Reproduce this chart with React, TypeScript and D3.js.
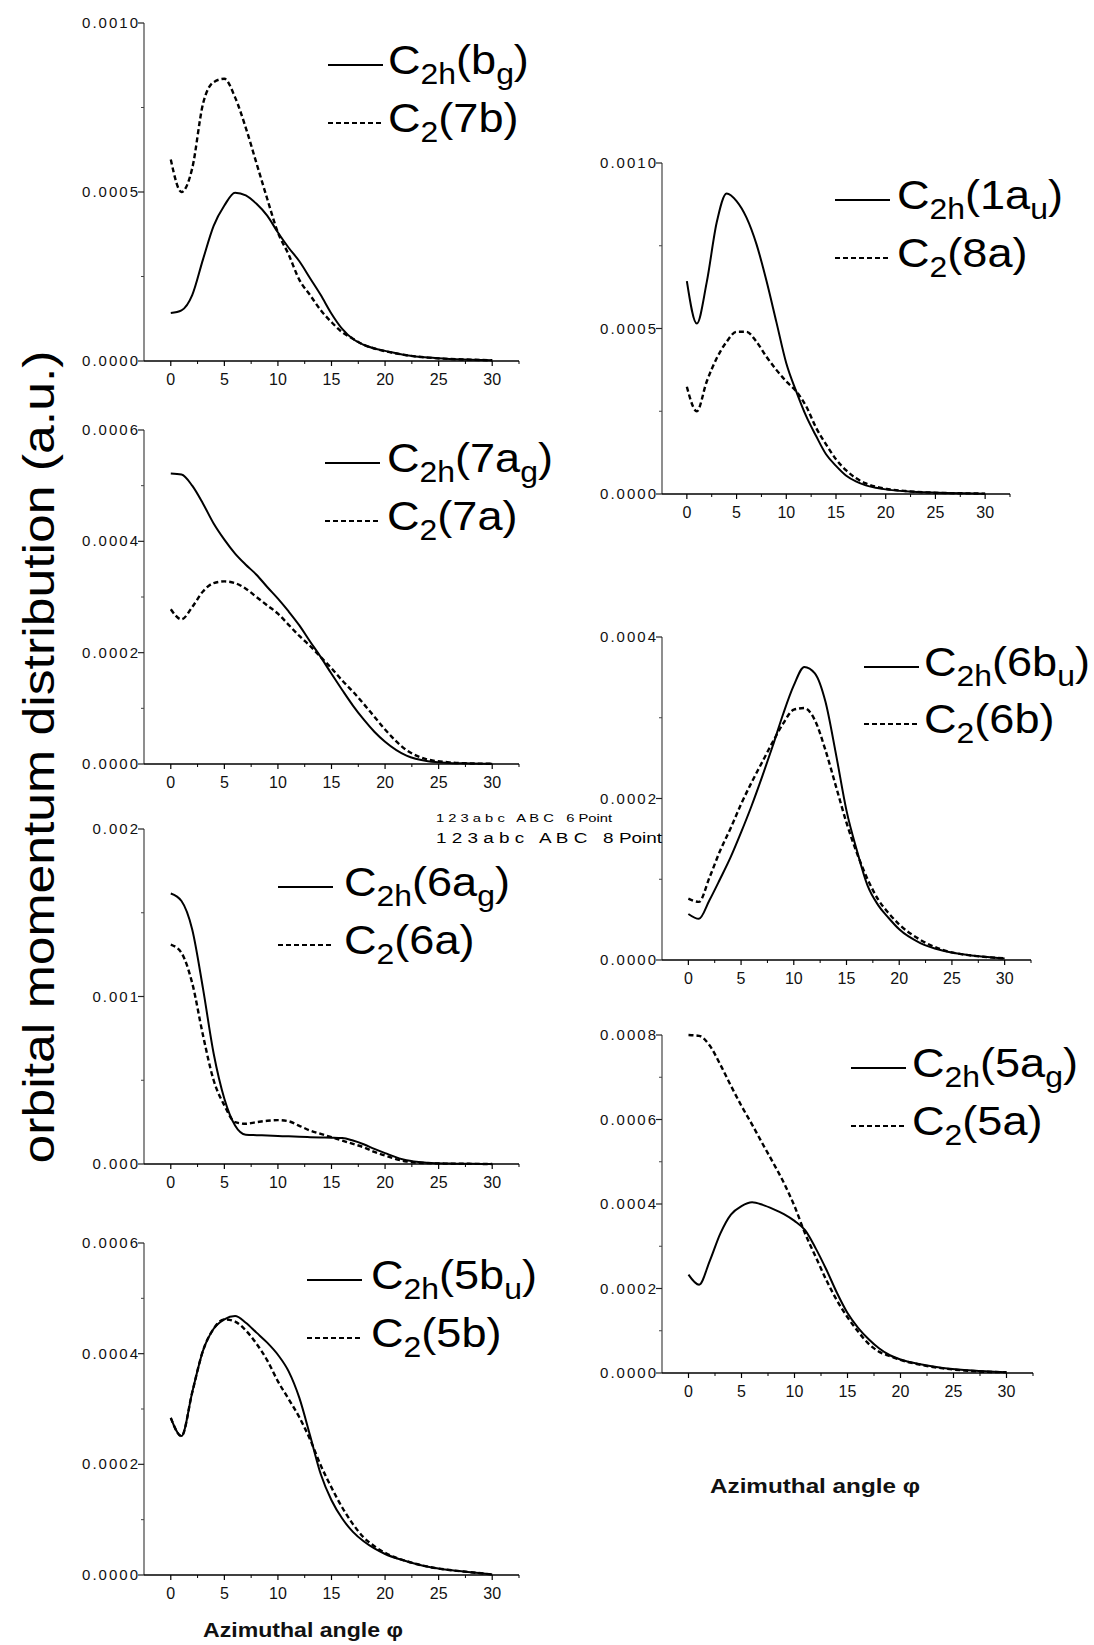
import React from "react";
import * as d3 from "d3";

const FONT = "'Liberation Sans', Arial, Helvetica, sans-serif";

// shared azimuthal-angle grid (degrees)
const angles = [0, 1, 2, 3, 4, 5, 6, 7, 8, 9, 10, 11, 12, 13, 14, 15, 16, 17, 18, 19, 20, 22, 24, 26, 28, 30];

const xMajorTicks = [0, 5, 10, 15, 20, 25, 30];
const xMinorTicks = [2.5, 7.5, 12.5, 17.5, 22.5, 27.5, 32.5];

// Panel: C2h(bg) / C2(7b)
const bgSolid = [1.42e-4, 1.5e-4, 1.95e-4, 3.0e-4, 4.0e-4, 4.6e-4, 4.98e-4, 4.9e-4, 4.65e-4, 4.3e-4, 3.8e-4, 3.35e-4, 2.95e-4, 2.45e-4, 1.95e-4, 1.4e-4, 0.95e-4, 0.65e-4, 0.48e-4, 0.37e-4, 0.3e-4, 0.17e-4, 0.1e-4, 0.06e-4, 0.04e-4, 0.02e-4];
const b7Dashed = [5.96e-4, 5.0e-4, 5.7e-4, 7.6e-4, 8.25e-4, 8.35e-4, 7.8e-4, 6.9e-4, 5.85e-4, 4.8e-4, 3.8e-4, 3.15e-4, 2.4e-4, 1.95e-4, 1.5e-4, 1.15e-4, 0.85e-4, 0.66e-4, 0.48e-4, 0.37e-4, 0.29e-4, 0.17e-4, 0.1e-4, 0.06e-4, 0.04e-4, 0.02e-4];

// Panel: C2h(1au) / C2(8a)
const au1Solid = [6.43e-4, 5.15e-4, 6.4e-4, 8.2e-4, 9.08e-4, 8.85e-4, 8.35e-4, 7.55e-4, 6.45e-4, 5.2e-4, 3.95e-4, 3.1e-4, 2.35e-4, 1.75e-4, 1.2e-4, 0.85e-4, 0.56e-4, 0.38e-4, 0.26e-4, 0.19e-4, 0.14e-4, 0.08e-4, 0.05e-4, 0.03e-4, 0.02e-4, 0.01e-4];
const a8Dashed = [3.24e-4, 2.5e-4, 3.4e-4, 4.1e-4, 4.6e-4, 4.9e-4, 4.9e-4, 4.6e-4, 4.15e-4, 3.75e-4, 3.4e-4, 3.1e-4, 2.65e-4, 2.0e-4, 1.5e-4, 1.05e-4, 0.72e-4, 0.48e-4, 0.32e-4, 0.22e-4, 0.16e-4, 0.09e-4, 0.05e-4, 0.03e-4, 0.02e-4, 0.01e-4];

// Panel: C2h(7ag) / C2(7a)
const ag7Solid = [5.22e-4, 5.2e-4, 5.0e-4, 4.68e-4, 4.32e-4, 4.03e-4, 3.78e-4, 3.58e-4, 3.4e-4, 3.18e-4, 2.97e-4, 2.74e-4, 2.49e-4, 2.2e-4, 1.92e-4, 1.62e-4, 1.33e-4, 1.05e-4, 0.8e-4, 0.58e-4, 0.4e-4, 0.15e-4, 0.05e-4, 0.02e-4, 0.01e-4, 0.005e-4];
const a7Dashed = [2.78e-4, 2.6e-4, 2.82e-4, 3.1e-4, 3.25e-4, 3.28e-4, 3.25e-4, 3.15e-4, 3.0e-4, 2.85e-4, 2.7e-4, 2.5e-4, 2.3e-4, 2.12e-4, 1.92e-4, 1.72e-4, 1.5e-4, 1.3e-4, 1.08e-4, 0.85e-4, 0.62e-4, 0.25e-4, 0.08e-4, 0.03e-4, 0.01e-4, 0.005e-4];

// Panel: C2h(6bu) / C2(6b)
const bu6Solid = [0.57e-4, 0.51e-4, 0.74e-4, 1.0e-4, 1.27e-4, 1.58e-4, 1.91e-4, 2.27e-4, 2.65e-4, 3.05e-4, 3.4e-4, 3.63e-4, 3.55e-4, 3.2e-4, 2.55e-4, 1.85e-4, 1.35e-4, 0.92e-4, 0.68e-4, 0.52e-4, 0.38e-4, 0.21e-4, 0.12e-4, 0.07e-4, 0.04e-4, 0.02e-4];
const b6Dashed = [0.76e-4, 0.72e-4, 1.02e-4, 1.35e-4, 1.63e-4, 1.93e-4, 2.2e-4, 2.45e-4, 2.7e-4, 2.93e-4, 3.1e-4, 3.12e-4, 2.97e-4, 2.6e-4, 2.15e-4, 1.7e-4, 1.32e-4, 1.0e-4, 0.75e-4, 0.58e-4, 0.44e-4, 0.25e-4, 0.13e-4, 0.07e-4, 0.04e-4, 0.02e-4];

// Panel: C2h(6ag) / C2(6a)
const ag6Solid = [1.615e-3, 1.57e-3, 1.4e-3, 1.05e-3, 0.66e-3, 0.39e-3, 0.23e-3, 0.175e-3, 0.172e-3, 0.17e-3, 0.167e-3, 0.165e-3, 0.162e-3, 0.16e-3, 0.158e-3, 0.157e-3, 0.155e-3, 0.14e-3, 0.118e-3, 0.09e-3, 0.065e-3, 0.022e-3, 0.008e-3, 0.003e-3, 0.001e-3, 0];
const a6Dashed = [1.31e-3, 1.26e-3, 1.08e-3, 0.77e-3, 0.5e-3, 0.35e-3, 0.25e-3, 0.24e-3, 0.25e-3, 0.258e-3, 0.262e-3, 0.255e-3, 0.228e-3, 0.2e-3, 0.18e-3, 0.16e-3, 0.14e-3, 0.12e-3, 0.1e-3, 0.072e-3, 0.05e-3, 0.015e-3, 0.005e-3, 0.002e-3, 0.001e-3, 0];

// Panel: C2h(5ag) / C2(5a)
const ag5Solid = [2.33e-4, 2.09e-4, 2.65e-4, 3.3e-4, 3.75e-4, 3.95e-4, 4.04e-4, 3.98e-4, 3.88e-4, 3.76e-4, 3.6e-4, 3.38e-4, 2.95e-4, 2.45e-4, 1.9e-4, 1.42e-4, 1.07e-4, 0.8e-4, 0.58e-4, 0.42e-4, 0.32e-4, 0.2e-4, 0.12e-4, 0.07e-4, 0.04e-4, 0.02e-4];
const a5Dashed = [8.0e-4, 7.98e-4, 7.75e-4, 7.3e-4, 6.8e-4, 6.32e-4, 5.88e-4, 5.42e-4, 4.97e-4, 4.5e-4, 3.95e-4, 3.3e-4, 2.75e-4, 2.2e-4, 1.72e-4, 1.32e-4, 0.98e-4, 0.69e-4, 0.5e-4, 0.4e-4, 0.31e-4, 0.19e-4, 0.11e-4, 0.06e-4, 0.03e-4, 0.02e-4];

// Panel: C2h(5bu) / C2(5b)
const bu5Solid = [2.84e-4, 2.51e-4, 3.3e-4, 4.05e-4, 4.45e-4, 4.62e-4, 4.68e-4, 4.56e-4, 4.38e-4, 4.2e-4, 3.98e-4, 3.68e-4, 3.2e-4, 2.52e-4, 1.82e-4, 1.35e-4, 1.02e-4, 0.78e-4, 0.61e-4, 0.48e-4, 0.38e-4, 0.25e-4, 0.15e-4, 0.09e-4, 0.05e-4, 0.01e-4];
const b5Dashed = [2.84e-4, 2.51e-4, 3.3e-4, 4.05e-4, 4.45e-4, 4.62e-4, 4.58e-4, 4.42e-4, 4.18e-4, 3.88e-4, 3.5e-4, 3.18e-4, 2.85e-4, 2.45e-4, 1.98e-4, 1.58e-4, 1.22e-4, 0.92e-4, 0.68e-4, 0.52e-4, 0.4e-4, 0.25e-4, 0.15e-4, 0.09e-4, 0.05e-4, 0.01e-4];

type Seg = { t: string; sub?: boolean };

const lbl_bg: Seg[] = [{ t: "C" }, { t: "2h", sub: true }, { t: "(b" }, { t: "g", sub: true }, { t: ")" }];
const lbl_7b: Seg[] = [{ t: "C" }, { t: "2", sub: true }, { t: "(7b)" }];
const lbl_1au: Seg[] = [{ t: "C" }, { t: "2h", sub: true }, { t: "(1a" }, { t: "u", sub: true }, { t: ")" }];
const lbl_8a: Seg[] = [{ t: "C" }, { t: "2", sub: true }, { t: "(8a)" }];
const lbl_7ag: Seg[] = [{ t: "C" }, { t: "2h", sub: true }, { t: "(7a" }, { t: "g", sub: true }, { t: ")" }];
const lbl_7a: Seg[] = [{ t: "C" }, { t: "2", sub: true }, { t: "(7a)" }];
const lbl_6ag: Seg[] = [{ t: "C" }, { t: "2h", sub: true }, { t: "(6a" }, { t: "g", sub: true }, { t: ")" }];
const lbl_6a: Seg[] = [{ t: "C" }, { t: "2", sub: true }, { t: "(6a)" }];
const lbl_6bu: Seg[] = [{ t: "C" }, { t: "2h", sub: true }, { t: "(6b" }, { t: "u", sub: true }, { t: ")" }];
const lbl_6b: Seg[] = [{ t: "C" }, { t: "2", sub: true }, { t: "(6b)" }];
const lbl_5ag: Seg[] = [{ t: "C" }, { t: "2h", sub: true }, { t: "(5a" }, { t: "g", sub: true }, { t: ")" }];
const lbl_5a: Seg[] = [{ t: "C" }, { t: "2", sub: true }, { t: "(5a)" }];
const lbl_5bu: Seg[] = [{ t: "C" }, { t: "2h", sub: true }, { t: "(5b" }, { t: "u", sub: true }, { t: ")" }];
const lbl_5b: Seg[] = [{ t: "C" }, { t: "2", sub: true }, { t: "(5b)" }];

const yTitle = "orbital momentum distribution (a.u.)";
const xTitle = "Azimuthal angle \u03C6";
const sample6 = "1 2 3 a b c   A B C   6 Point";
const sample8 = "1 2 3 a b c   A B C   8 Point";

interface PanelCfg {
  left: number;
  right: number;
  top: number;
  bottom: number;
  yMax: number;
  yStep: number;
  yDec: number;
  solid: number[];
  dashed: number[];
  solidLabel: Seg[];
  dashedLabel: Seg[];
  legX: number;
  legY: number;
  legGap: number;
  textOff: number;
}

const MAIN_FS = 41;
const SUB_FS = 29;

function LegendText({ x, y, segs }: { x: number; y: number; segs: Seg[] }) {
  let prevSub = false;
  return (
    <g transform={`translate(${x},${y}) scale(1.1,1)`}>
      <text x={0} y={0} fontFamily={FONT} fontSize={MAIN_FS} fill="#000">
        {segs.map((s, i) => {
          let dy = 0;
          if (s.sub && !prevSub) dy = 10;
          else if (!s.sub && prevSub) dy = -10;
          prevSub = !!s.sub;
          return (
            <tspan key={i} dy={dy} fontSize={s.sub ? SUB_FS : MAIN_FS}>
              {s.t}
            </tspan>
          );
        })}
      </text>
    </g>
  );
}

function Panel({ cfg }: { cfg: PanelCfg }) {
  const x = d3.scaleLinear().domain([-2.5, 32.5]).range([cfg.left, cfg.right]);
  const y = d3.scaleLinear().domain([0, cfg.yMax]).range([cfg.bottom, cfg.top]);
  const nMaj = Math.round(cfg.yMax / cfg.yStep);
  const yMajor = d3.range(nMaj + 1).map((i) => i * cfg.yStep);
  const yMinor = d3.range(nMaj).map((i) => (i + 0.5) * cfg.yStep);
  const fmt = d3.format(`.${cfg.yDec}f`);
  const line = d3
    .line<number>()
    .x((_, i) => x(angles[i]))
    .y((d) => y(d))
    .curve(d3.curveMonotoneX);
  const lineLen = 55;
  return (
    <g>
      {/* curves */}
      <path d={line(cfg.dashed) || ""} fill="none" stroke="#000" strokeWidth={2.4} strokeDasharray="5,3" />
      <path d={line(cfg.solid) || ""} fill="none" stroke="#000" strokeWidth={2} />
      {/* y axis */}
      <line x1={cfg.left} x2={cfg.left} y1={cfg.bottom} y2={cfg.top} stroke="#444" strokeWidth={1.2} />
      {yMajor.map((v) => (
        <g key={"ym" + v}>
          <line x1={cfg.left - 6} x2={cfg.left} y1={y(v)} y2={y(v)} stroke="#222" strokeWidth={1.2} />
          <text
            x={cfg.left - 4}
            y={y(v) + 5}
            textAnchor="end"
            fontFamily={FONT}
            fontSize={15}
            letterSpacing={2}
            fill="#111"
          >
            {fmt(v)}
          </text>
        </g>
      ))}
      {yMinor.map((v) => (
        <line key={"yn" + v} x1={cfg.left - 3} x2={cfg.left} y1={y(v)} y2={y(v)} stroke="#444" strokeWidth={1} />
      ))}
      {/* x axis */}
      <line x1={cfg.left} x2={cfg.right} y1={cfg.bottom} y2={cfg.bottom} stroke="#000" strokeWidth={1.5} />
      {xMajorTicks.map((v) => (
        <g key={"xm" + v}>
          <line x1={x(v)} x2={x(v)} y1={cfg.bottom} y2={cfg.bottom + 5} stroke="#000" strokeWidth={1.2} />
          <text x={x(v)} y={cfg.bottom + 24} textAnchor="middle" fontFamily={FONT} fontSize={16} fill="#111">
            {v}
          </text>
        </g>
      ))}
      {xMinorTicks.map((v) => (
        <line key={"xn" + v} x1={x(v)} x2={x(v)} y1={cfg.bottom} y2={cfg.bottom + 3} stroke="#000" strokeWidth={1} />
      ))}
      {/* legend */}
      <line x1={cfg.legX} x2={cfg.legX + lineLen} y1={cfg.legY} y2={cfg.legY} stroke="#000" strokeWidth={2} />
      <LegendText x={cfg.legX + cfg.textOff} y={cfg.legY + 9} segs={cfg.solidLabel} />
      <line
        x1={cfg.legX}
        x2={cfg.legX + lineLen}
        y1={cfg.legY + cfg.legGap}
        y2={cfg.legY + cfg.legGap}
        stroke="#000"
        strokeWidth={2.2}
        strokeDasharray="5,3"
      />
      <LegendText x={cfg.legX + cfg.textOff} y={cfg.legY + cfg.legGap + 9} segs={cfg.dashedLabel} />
    </g>
  );
}

const LEFT_L = 144;
const LEFT_R = 519;

const panels: PanelCfg[] = [
  { left: LEFT_L, right: LEFT_R, top: 23, bottom: 361, yMax: 0.001, yStep: 0.0005, yDec: 4, solid: bgSolid, dashed: b7Dashed, solidLabel: lbl_bg, dashedLabel: lbl_7b, legX: 328, legY: 65, legGap: 58, textOff: 60 },
  { left: 662, right: 1010, top: 163, bottom: 494, yMax: 0.001, yStep: 0.0005, yDec: 4, solid: au1Solid, dashed: a8Dashed, solidLabel: lbl_1au, dashedLabel: lbl_8a, legX: 835, legY: 200, legGap: 58, textOff: 62 },
  { left: LEFT_L, right: LEFT_R, top: 430, bottom: 764, yMax: 0.0006, yStep: 0.0002, yDec: 4, solid: ag7Solid, dashed: a7Dashed, solidLabel: lbl_7ag, dashedLabel: lbl_7a, legX: 325, legY: 463, legGap: 58, textOff: 62 },
  { left: LEFT_L, right: LEFT_R, top: 829, bottom: 1164, yMax: 0.002, yStep: 0.001, yDec: 3, solid: ag6Solid, dashed: a6Dashed, solidLabel: lbl_6ag, dashedLabel: lbl_6a, legX: 278, legY: 887, legGap: 58, textOff: 66 },
  { left: 662, right: 1031, top: 637, bottom: 960, yMax: 0.0004, yStep: 0.0002, yDec: 4, solid: bu6Solid, dashed: b6Dashed, solidLabel: lbl_6bu, dashedLabel: lbl_6b, legX: 864, legY: 667, legGap: 57, textOff: 60 },
  { left: 662, right: 1033, top: 1035, bottom: 1373, yMax: 0.0008, yStep: 0.0002, yDec: 4, solid: ag5Solid, dashed: a5Dashed, solidLabel: lbl_5ag, dashedLabel: lbl_5a, legX: 851, legY: 1068, legGap: 58, textOff: 61 },
  { left: LEFT_L, right: LEFT_R, top: 1243, bottom: 1575, yMax: 0.0006, yStep: 0.0002, yDec: 4, solid: bu5Solid, dashed: b5Dashed, solidLabel: lbl_5bu, dashedLabel: lbl_5b, legX: 307, legY: 1280, legGap: 58, textOff: 64 },
];

export default function App() {
  return (
    <div style={{ position: "absolute", left: 0, top: 0, width: 1094, height: 1645, background: "#fff" }}>
      <svg width={1094} height={1645} viewBox="0 0 1094 1645" style={{ display: "block" }}>
        <rect x={0} y={0} width={1094} height={1645} fill="#fff" />
        {panels.map((p, i) => (
          <Panel key={i} cfg={p} />
        ))}
        {/* shared y title */}
        <text
          transform="translate(54,757) rotate(-90)"
          textAnchor="middle"
          fontFamily={FONT}
          fontSize={44}
          textLength={813}
          lengthAdjust="spacingAndGlyphs"
          fill="#000"
        >
          {yTitle}
        </text>
        {/* x titles */}
        <text
          x={203}
          y={1637}
          fontFamily={FONT}
          fontSize={20}
          fontWeight="bold"
          textLength={200}
          lengthAdjust="spacingAndGlyphs"
          fill="#111"
        >
          {xTitle}
        </text>
        <text
          x={710}
          y={1493}
          fontFamily={FONT}
          fontSize={20}
          fontWeight="bold"
          textLength={210}
          lengthAdjust="spacingAndGlyphs"
          fill="#111"
        >
          {xTitle}
        </text>
        {/* Origin sample-text artefacts */}
        <text
          x={436}
          y={822}
          fontFamily={FONT}
          fontSize={10.5}
          textLength={176}
          lengthAdjust="spacingAndGlyphs"
          style={{ whiteSpace: "pre" }}
          fill="#000"
        >
          {sample6}
        </text>
        <text
          x={436}
          y={843}
          fontFamily={FONT}
          fontSize={14}
          textLength={226}
          lengthAdjust="spacingAndGlyphs"
          style={{ whiteSpace: "pre" }}
          fill="#000"
        >
          {sample8}
        </text>
      </svg>
    </div>
  );
}
